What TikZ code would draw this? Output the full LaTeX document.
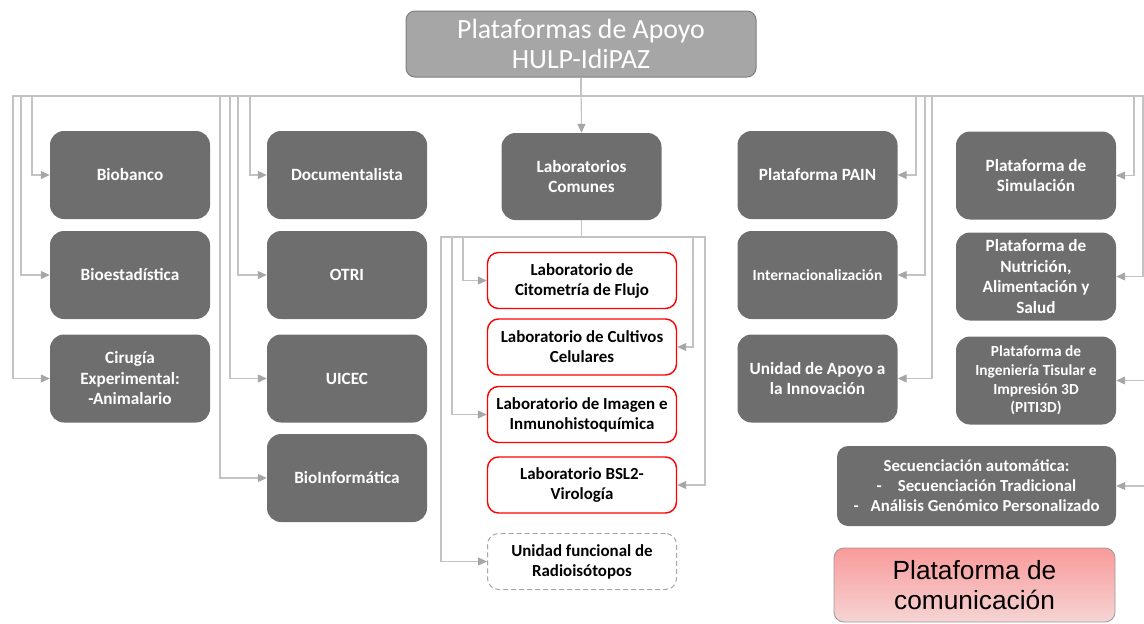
\documentclass[tikz,border=0pt]{standalone}
\usepackage{fontspec}
\setmainfont{Carlito}
\newfontfamily\arialfont{Liberation Sans}
\usetikzlibrary{arrows.meta}

\definecolor{boxgray}{HTML}{6E6E6E}
\definecolor{titlegray}{HTML}{A6A6A6}
\definecolor{titleline}{HTML}{7F7F7F}
\definecolor{lineg}{HTML}{C3C3C3}
\definecolor{tipg}{HTML}{A6A6A6}
\definecolor{pinktop}{HTML}{F99A9A}
\definecolor{pinkbot}{HTML}{F6D4D4}

\tikzset{
	plat/.style={rectangle, rounded corners=14pt, fill=boxgray, text=white, align=center,
		font=\bfseries\fontsize{17.2}{20.5}\selectfont, minimum width=160pt, minimum height=88pt, inner sep=2pt},
	lab/.style={rectangle, rounded corners=11pt, draw=red, line width=1.4pt, fill=white, align=center,
		font=\bfseries\fontsize{16.9}{20}\selectfont, minimum width=189pt, minimum height=56pt, inner sep=2pt},
	conn/.style={draw=lineg, line width=1.1pt, -{Triangle[length=9pt,width=8pt,color=tipg]}}
}

\begin{document}
\begin{tikzpicture}[x=1pt, y=-1pt]
	\useasboundingbox (0,0) rectangle (1144,624);

	\node at (581,44) [rectangle, rounded corners=9pt, draw=titleline, line width=1pt, fill=titlegray, text=white, align=center,
		font=\fontsize{27.8}{30}\selectfont, minimum width=350pt, minimum height=66pt] (title) {Plataformas de Apoyo\\HULP-IdiPAZ};

	% columna izquierda
	\node at (130,175) [plat] (biobanco) {Biobanco};
	\node at (130,275) [plat] (bioest) {Bioestadística};
	\node at (130,378.5) [plat] (cirugia) {Cirugía\\Experimental:\\-Animalario};

	\node at (347,175) [plat] (docu) {Documentalista};
	\node at (347,275) [plat] (otri) {OTRI};
	\node at (347,378.5) [plat] (uicec) {UICEC};
	\node at (347,478) [plat] (bioinf) {BioInformática};

	% laboratorios
	\node at (581.5,176.5) [plat, minimum height=87pt] (labcom) {Laboratorios\\Comunes};
	\node at (582,280.5) [lab] (cito) {Laboratorio de\\Citometría de Flujo};
	\node at (582,347) [lab] (cultivos) {Laboratorio de Cultivos\\Celulares};
	\node at (582,414.5) [lab] (imagen) {Laboratorio de Imagen e\\Inmunohistoquímica};
	\node at (582,485) [lab] (bsl) {Laboratorio BSL2-\\Virología};
	\node at (582,561.5) [lab, draw=tipg, line width=1pt, dash pattern=on 5pt off 3pt] (radio) {Unidad funcional de\\Radioisótopos};

	% columna derecha
	\node at (817.5,175) [plat] (pain) {Plataforma PAIN};
	\node at (817.5,275) [plat, font=\bfseries\fontsize{15.5}{18}\selectfont] (inter) {Internacionalización};
	\node at (817.5,378.5) [plat] (innova) {Unidad de Apoyo a\\la Innovación};

	\node at (1036,175.5) [plat] (simul) {Plataforma de\\Simulación};
	\node at (1036,276.5) [plat, font=\bfseries\fontsize{17.2}{20.7}\selectfont] (nutri) {Plataforma de\\Nutrición,\\Alimentación y\\Salud};
	\node at (1036,380.5) [plat, font=\bfseries\fontsize{15.4}{18.7}\selectfont] (piti) {Plataforma de\\Ingeniería Tisular e\\Impresión 3D\\(PITI3D)};
	\node at (976.5,486) [plat, minimum width=279pt, minimum height=80pt, rounded corners=11pt, font=\bfseries\fontsize{16.8}{20}\selectfont] (secuen)
		{Secuenciación automática:\\-\hspace{16pt}Secuenciación Tradicional\\-\hspace{12pt}Análisis Genómico Personalizado};

	\node at (974.5,585) [rectangle, rounded corners=10pt, draw=gray!80, line width=0.8pt, top color=pinktop, bottom color=pinkbot,
		align=center, font=\arialfont\fontsize{26.3}{30}\selectfont, minimum width=281pt, minimum height=74pt] (comun) {Plataforma de\\comunicación};

	\draw [conn] (title.south) |- (13,96) |- (cirugia.west);
	\draw [conn] (title.south) |- (21,96) |- (bioest.west);
	\draw [conn] (title.south) |- (32,96) |- (biobanco.west);
	\draw [conn] (title.south) |- (220,96) |- (bioinf.west);
	\draw [conn] (title.south) |- (230,96) |- (uicec.west);
	\draw [conn] (title.south) |- (238,96) |- (otri.west);
	\draw [conn] (title.south) |- (250,96) |- (docu.west);
	\draw [conn] (title.south) -- (labcom.north);
	\draw [conn] (title.south) |- (916,96) |- (pain.east);
	\draw [conn] (title.south) |- (925,96) |- (inter.east);
	\draw [conn] (title.south) |- (932,96) |- (innova.east);
	\draw [conn] (title.south) |- (1134,96) |- (simul.east);
	\draw [conn] (title.south) |- (1143,96) |- (nutri.east);
	\draw [conn] (title.south) |- (1152,96) |- (piti.east);
	\draw [conn] (title.south) |- (1160,96) |- (secuen.east);

	\draw [conn] (labcom.south) |- (441,237) |- (radio.west);
	\draw [conn] (labcom.south) |- (452,237) |- (imagen.west);
	\draw [conn] (labcom.south) |- (463,237) |- (cito.west);
	\draw [conn] (labcom.south) |- (693,237) |- (cultivos.east);
	\draw [conn] (labcom.south) |- (705,237) |- (bsl.east);
\end{tikzpicture}
\end{document}
